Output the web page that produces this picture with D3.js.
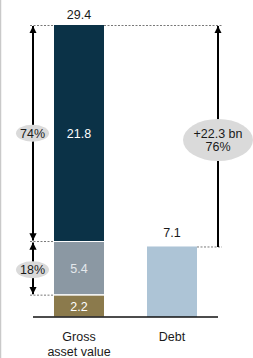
<!DOCTYPE html>
<html>
<head>
<meta charset="utf-8">
<script src="https://cdn.jsdelivr.net/npm/d3@7"></script>
<style>
  html, body { margin: 0; padding: 0; background: #fff; }
  svg { display: block; font-family: "Liberation Sans", Arial, sans-serif; }
</style>
</head>
<body>
<div id="chart"></div>
<script>
// data
var categories = ['Gross asset value', 'Debt'];
var gav_segments = [2.2, 5.4, 21.8];
var gav_colors = ['#8b7a4c', '#8b98a3', '#0b3247'];
var gav_label_colors = ['#ffffff', '#e4e8ec', '#ffffff'];
var debt_value = [7.1];
var debt_color = '#adc4d6';
var gav_total = 29.4;
var share_labels = ['74%', '18%'];
var delta_labels = ['+22.3 bn', '76%'];
var category_lines = [['Gross', 'asset value'], ['Debt']];

var width = 253, height = 358;
var font_size = 12.5;
var svg = d3.select('#chart').append('svg')
    .attr('width', width)
    .attr('height', height);

// left frame line
svg.append('line')
    .attr('x1', 0.5).attr('x2', 0.5)
    .attr('y1', 0).attr('y2', height)
    .attr('stroke', '#c9c9c9').attr('stroke-width', 1.5);

// two 50px bars, 93px apart
var x = d3.scaleBand().domain(categories).range([54, 197]).paddingInner(2 - 143 / 93).paddingOuter(0);
var bar_w = x.bandwidth();
var y = d3.scaleLinear().domain([0, gav_total]).range([317, 25]);

// stacked bar
var stack_data = [];
var acc = 0;
gav_segments.forEach(function (v, i) {
    stack_data.push({y0: acc, y1: acc + v, v: v, i: i});
    acc += v;
});

svg.selectAll('rect.gav')
    .data(stack_data)
    .enter().append('rect')
    .attr('class', 'gav')
    .attr('x', x(categories[0]))
    .attr('width', bar_w)
    .attr('y', function (d) { return y(d.y1) + (d.i < 2 ? 0.5 : 0); })
    .attr('height', function (d) { return y(d.y0) - y(d.y1) - (d.i < 2 ? 1 : 0) - (d.i > 0 ? 0.5 : 0); })
    .attr('fill', function (d) { return gav_colors[d.i]; });

svg.selectAll('text.gav')
    .data(stack_data)
    .enter().append('text')
    .attr('class', 'gav')
    .attr('x', x(categories[0]) + bar_w / 2)
    .attr('y', function (d) { return (y(d.y0) + y(d.y1)) / 2; })
    .attr('dy', '0.36em')
    .attr('text-anchor', 'middle')
    .attr('font-size', font_size)
    .attr('fill', function (d) { return gav_label_colors[d.i]; })
    .text(function (d) { return d3.format('.1f')(d.v); });

// debt bar
svg.selectAll('rect.debt')
    .data(debt_value)
    .enter().append('rect')
    .attr('class', 'debt')
    .attr('x', x(categories[1]))
    .attr('width', bar_w)
    .attr('y', function (d) { return y(d); })
    .attr('height', function (d) { return y(0) - y(d); })
    .attr('fill', debt_color);

svg.append('text')
    .attr('x', x(categories[1]) + bar_w / 2)
    .attr('y', y(debt_value[0]) - 9)
    .attr('text-anchor', 'middle')
    .attr('font-size', font_size)
    .attr('fill', '#1a1a1a')
    .text(d3.format('.1f')(debt_value[0]));

svg.append('text')
    .attr('x', x(categories[0]) + bar_w / 2)
    .attr('y', y(gav_total) - 6)
    .attr('text-anchor', 'middle')
    .attr('font-size', font_size)
    .attr('fill', '#1a1a1a')
    .text(d3.format('.1f')(gav_total));

// baseline
svg.append('line')
    .attr('x1', 33).attr('x2', 218)
    .attr('y1', y(0)).attr('y2', y(0))
    .attr('stroke', '#111').attr('stroke-width', 1.5);

// dashed guides
var dash = function (x1, x2, yy) {
    svg.append('line')
        .attr('x1', x1).attr('x2', x2)
        .attr('y1', yy).attr('y2', yy)
        .attr('stroke', '#555').attr('stroke-width', 0.8)
        .attr('stroke-dasharray', '2,1.5');
};
var mid_top = y(gav_segments[0] + gav_segments[1]);
var gav_left = x(categories[0]);
dash(30, gav_left, y(gav_total) + 0.5);
dash(gav_left + bar_w, 222, y(gav_total) + 0.5);
dash(30, gav_left, mid_top);
dash(30, gav_left, y(gav_segments[0]));
dash(x(categories[1]) + bar_w, 222, y(debt_value[0]) + 0.5);

// arrows
svg.append('defs').append('marker')
    .attr('id', 'head')
    .attr('viewBox', '0 0 10 10')
    .attr('refX', 10).attr('refY', 5)
    .attr('markerWidth', 3.6).attr('markerHeight', 3.6)
    .attr('markerUnits', 'strokeWidth')
    .attr('orient', 'auto-start-reverse')
    .append('path')
    .attr('d', 'M0,0L10,5L0,10Z')
    .attr('fill', '#000');

var arrow = function (xx, ya, yb, both) {
    var l = svg.append('line')
        .attr('x1', xx).attr('x2', xx)
        .attr('y1', yb).attr('y2', ya)
        .attr('stroke', '#000').attr('stroke-width', 2)
        .attr('marker-end', 'url(#head)');
    if (both) l.attr('marker-start', 'url(#head)');
};
arrow(33, y(gav_total) + 1, mid_top - 1, true);
arrow(33, mid_top + 1, y(gav_segments[0]) - 1, true);
arrow(218, y(gav_total) + 1, y(debt_value[0]) + 0.5, false);

// bubbles
var bubble = function (cx, cy, rx, ry, lines) {
    svg.append('ellipse')
        .attr('cx', cx).attr('cy', cy)
        .attr('rx', rx).attr('ry', ry)
        .attr('fill', '#dadada');
    var t = svg.append('text')
        .attr('text-anchor', 'middle')
        .attr('font-size', font_size)
        .attr('fill', '#1a1a1a');
    lines.forEach(function (s, i) {
        t.append('tspan')
            .attr('x', cx)
            .attr('y', cy + (i - (lines.length - 1) / 2) * 13)
            .attr('dy', '0.36em')
            .text(s);
    });
};
bubble(32.5, (y(gav_total) + mid_top) / 2, 16.5, 8.5, [share_labels[0]]);
bubble(32.5, (mid_top + y(gav_segments[0])) / 2 + 1.5, 16.5, 8.5, [share_labels[1]]);
bubble(218, 140, 35, 21, delta_labels);

// category labels
categories.forEach(function (c, i) {
    var t = svg.append('text')
        .attr('text-anchor', 'middle')
        .attr('font-size', font_size)
        .attr('fill', '#1a1a1a');
    category_lines[i].forEach(function (s, j) {
        t.append('tspan')
            .attr('x', x(c) + bar_w / 2)
            .attr('y', 341 + j * 15)
            .text(s);
    });
});
</script>
</body>
</html>
